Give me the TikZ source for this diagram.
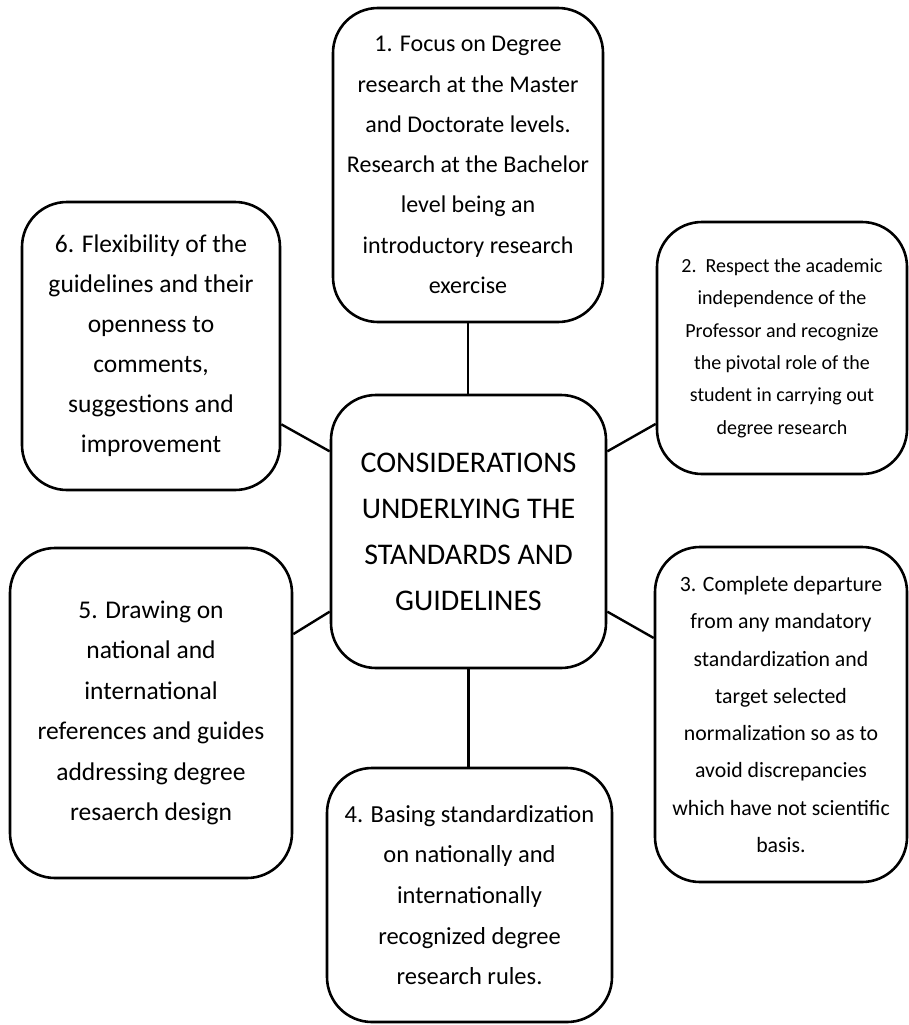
\documentclass[tikz,border=0pt]{standalone}
\usepackage{fontspec}
\setmainfont{Carlito}
\begin{document}
\begin{tikzpicture}[x=1pt,y=-1pt,
  box/.style={draw=black, line width=2.6pt, rounded corners=45pt, fill=white, align=center, inner sep=0pt, text=black},
  link/.style={draw=black, line width=2.4pt}]
\useasboundingbox (0,0) rectangle (909,1025);
\node[box, minimum width=275pt, minimum height=273pt, font=\fontsize{30}{46}\selectfont] (c) at (468.5,531.5)
  {CONSIDERATIONS\\UNDERLYING THE\\STANDARDS AND\\GUIDELINES};
\node[box, minimum width=270pt, minimum height=314pt, font=\fontsize{24}{40.3}\selectfont] (b1) at (468,165)
  {1. Focus on Degree\\research at the Master\\and Doctorate levels.\\Research at the Bachelor\\level being an\\introductory research\\exercise};
\node[box, minimum width=250pt, minimum height=252pt, font=\fontsize{20}{32.4}\selectfont] (b2) at (782,348)
  {2.\ \ Respect the academic\\independence of the\\Professor and recognize\\the pivotal role of the\\student in carrying out\\degree research};
\node[box, minimum width=252pt, minimum height=335pt, font=\fontsize{21.8}{37.3}\selectfont] (b3) at (781,714.5)
  {3. Complete departure\\from any mandatory\\standardization and\\target selected\\normalization so as to\\avoid discrepancies\\which have not scientific\\basis.};
\node[box, minimum width=285pt, minimum height=254pt, font=\fontsize{24.5}{40.7}\selectfont] (b4) at (469.5,895)
  {4. Basing standardization\\on nationally and\\internationally\\recognized degree\\research rules.};
\node[box, minimum width=282pt, minimum height=330pt, font=\fontsize{25.5}{40.4}\selectfont] (b5) at (151,713)
  {5. Drawing on\\national and\\international\\references and guides\\addressing degree\\resaerch design};
\node[box, minimum width=258pt, minimum height=288pt, font=\fontsize{25.5}{40}\selectfont] (b6) at (151,346)
  {6. Flexibility of the\\guidelines and their\\openness to\\comments,\\suggestions and\\improvement};
\draw[link] (b1.south) -- (b1.south |- c.north);
\draw[link] (c.south) -- (c.south |- b4.north);
\draw[link] (c.150) -- (b6.-31.5);
\draw[link] (c.210) -- (b5.29);
\draw[link] (c.30) -- (b2.211);
\draw[link] (c.-30) -- (b3.149);
\end{tikzpicture}
\end{document}
